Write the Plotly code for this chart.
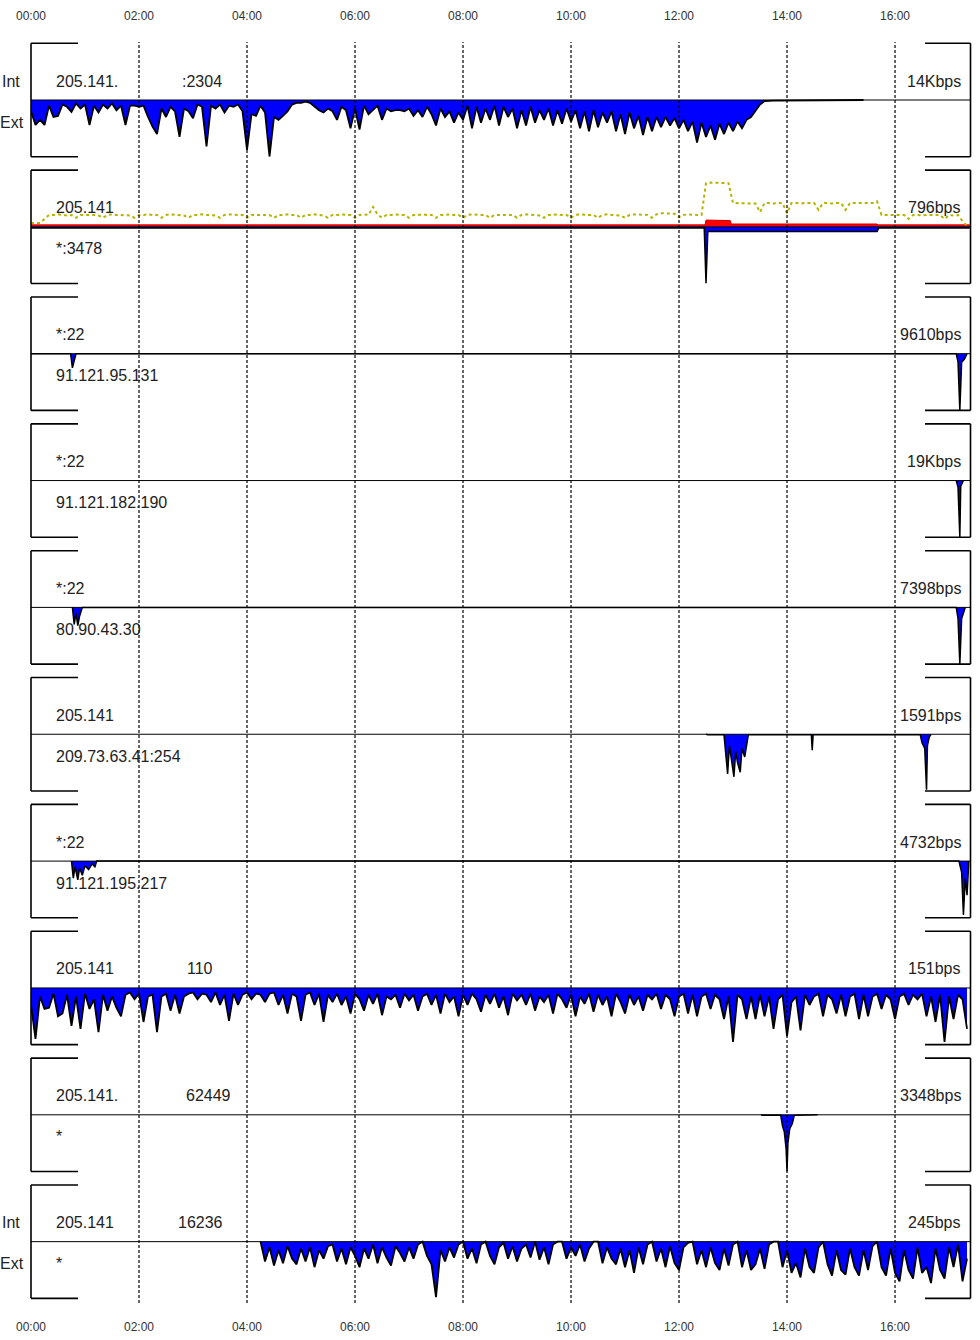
import plotly.graph_objects as go

# ---------------- data ----------------
tick_minutes = [0, 120, 240, 360, 480, 600, 720, 840, 960]
tick_labels = ["00:00", "02:00", "04:00", "06:00", "08:00", "10:00", "12:00", "14:00", "16:00"]
x_end = 1043.3  # minutes after 00:00 at the right edge

scale_bps = [14000, 796, 9610, 19000, 7398, 1591, 4732, 151, 3348, 245]
scale_labels = ["14Kbps", "796bps", "9610bps", "19Kbps", "7398bps",
                "1591bps", "4732bps", "151bps", "3348bps", "245bps"]
int_host = ["205.141.", "205.141", "*:22", "*:22", "*:22", "205.141", "*:22", "205.141", "205.141.", "205.141"]
int_port = [":2304", "", "", "", "", "", "", "110", "62449", "16236"]
ext_host = ["", "*:3478", "91.121.95.131", "91.121.182.190", "80.90.43.30",
            "209.73.63.41:254", "91.121.195.217", "", "*", "*"]

# values are percent of each panel's scale; dense series sampled every 5 minutes
step_min = 5

p1_start = 0
p1_ext = [20, 44, 35, 44, 10, 30, 28, 8, 12, 21,
          6, 15, 8, 44, 10, 22, 8, 15, 6, 18,
          10, 44, 10, 10, 12, 10, 30, 47, 60, 15,
          30, 12, 20, 65, 15, 20, 32, 8, 12, 82,
          10, 15, 8, 22, 10, 12, 8, 20, 88, 25,
          28, 10, 22, 100, 30, 35, 28, 20, 8, 5,
          5, 3, 5, 12, 18, 22, 15, 20, 35, 12,
          18, 50, 15, 52, 10, 25, 18, 10, 35, 15,
          20, 18, 18, 20, 15, 28, 18, 30, 12, 25,
          45, 15, 30, 20, 40, 22, 35, 10, 50, 12,
          40, 15, 35, 10, 45, 12, 30, 15, 50, 18,
          45, 12, 40, 18, 35, 15, 45, 18, 42, 15,
          38, 18, 50, 20, 55, 18, 48, 22, 40, 20,
          55, 25, 60, 22, 50, 28, 62, 30, 55, 30,
          48, 30, 45, 32, 50, 35, 55, 38, 75, 40,
          65, 45, 70, 42, 60, 40, 55, 38, 50, 35,
          30, 20, 8, 2, 1, 1, 1, 1, 1, 1,
          1, 1, 1, 1, 1, 1, 1, 1, 1, 1,
          1, 1, 1, 1, 1, 0]

p2_flow_start = 0
p2_flow = [7, 7, 7, 14, 21, 21, 22, 21, 20, 21,
           16, 21, 21, 22, 21, 20, 16, 21, 22, 21,
           21, 21, 20, 16, 21, 21, 22, 21, 21, 16,
           21, 22, 21, 21, 20, 16, 21, 21, 22, 21,
           21, 20, 16, 21, 22, 21, 21, 21, 16, 21,
           21, 22, 21, 21, 16, 21, 21, 22, 21, 21,
           16, 21, 21, 22, 21, 20, 16, 21, 21, 22,
           21, 21, 16, 21, 22, 21, 35, 22, 16, 21,
           21, 22, 21, 21, 16, 21, 21, 22, 21, 21,
           16, 21, 21, 22, 21, 21, 16, 21, 22, 21,
           21, 21, 16, 21, 21, 22, 21, 21, 16, 21,
           22, 21, 21, 20, 16, 21, 21, 22, 21, 21,
           16, 21, 22, 21, 21, 21, 16, 21, 22, 21,
           21, 20, 16, 21, 22, 22, 21, 21, 16, 22,
           24, 24, 24, 23, 17, 21, 22, 21, 21, 21,
           77, 78, 78, 77, 77, 77, 42, 42, 41, 42,
           42, 41, 26, 42, 42, 41, 42, 42, 24, 42,
           42, 41, 42, 42, 42, 30, 42, 42, 41, 42,
           42, 30, 42, 42, 42, 41, 42, 42, 45, 21,
           21, 21, 20, 21, 21, 14, 21, 21, 20, 21,
           21, 20, 21, 14, 21, 20, 21, 10, 2]
p2_int_t = [0, 749, 750, 777, 778, 940, 941, 1043]
p2_int = [3.5, 3.5, 12, 11, 5, 5, 3.5, 3.5]
p2_ext_t = [0, 748, 750, 752, 940, 942, 1043]
p2_ext = [2, 2, 100, 8, 8, 2, 2]

p3_ext_t = [0, 44, 46, 48, 50, 1028, 1030, 1032, 1034, 1037, 1040]
p3_ext = [0, 0, 25, 10, 0, 0, 15, 100, 15, 10, 0]

p4_ext_t = [1028, 1030, 1032, 1033, 1036]
p4_ext = [0, 12, 100, 10, 0]

p5_ext_t = [46, 48, 50, 52, 54, 57, 1028, 1030, 1032, 1034, 1038]
p5_ext = [0, 30, 10, 32, 15, 0, 0, 20, 100, 20, 0]

p6_ext_t = [750, 752, 770, 772, 774, 776, 778, 781, 783, 785, 788, 790, 793, 795, 797,
            867, 868, 869, 873, 874, 938, 940, 988, 990, 993, 995, 996, 998, 1000]
p6_ext = [0, 1, 1, 40, 70, 20, 45, 75, 30, 50, 67, 25, 40, 20, 1,
          1, 28, 1, 1, 0, 0, 1, 1, 15, 25, 98, 20, 5, 0]

p7_ext_t = [45, 47, 49, 52, 54, 57, 60, 64, 68, 71, 73, 1031, 1034, 1036, 1038, 1040, 1042]
p7_ext = [0, 30, 10, 33, 12, 25, 8, 15, 5, 10, 0, 0, 20, 95, 30, 60, 0]

p8_start = 0
p8_ext = [30, 90, 15, 37, 35, 10, 50, 45, 12, 67,
          15, 72, 10, 37, 20, 78, 12, 40, 15, 35,
          50, 12, 8, 20, 10, 60, 15, 12, 78, 15,
          10, 40, 12, 45, 15, 10, 8, 20, 10, 12,
          25, 8, 30, 12, 58, 10, 30, 12, 8, 20,
          10, 12, 25, 10, 8, 30, 12, 45, 10, 15,
          58, 12, 8, 30, 10, 60, 12, 25, 10, 30,
          15, 45, 10, 20, 40, 12, 28, 10, 48, 15,
          20, 12, 35, 10, 22, 12, 40, 15, 10, 30,
          12, 45, 10, 25, 15, 50, 12, 30, 10, 20,
          42, 12, 28, 10, 35, 15, 48, 10, 22, 12,
          30, 10, 40, 15, 25, 12, 45, 10, 20, 35,
          12, 50, 15, 28, 10, 42, 12, 30, 15, 50,
          10, 25, 45, 12, 30, 15, 40, 12, 20, 10,
          37, 12, 20, 50, 15, 10, 45, 12, 50, 15,
          10, 37, 12, 20, 55, 15, 95, 12, 20, 55,
          15, 55, 12, 50, 15, 72, 20, 12, 85, 25,
          15, 75, 12, 30, 15, 10, 50, 12, 20, 45,
          12, 50, 15, 10, 55, 12, 50, 15, 10, 37,
          12, 20, 55, 15, 10, 30, 12, 20, 10, 50,
          15, 60, 12, 95, 15, 55, 12, 20, 72]

p9_ext_t = [811, 813, 833, 835, 837, 839, 840, 841, 843, 846, 848, 873, 874]
p9_ext = [0, 1, 1, 20, 30, 60, 100, 50, 25, 15, 1, 1, 0]

p10_start = 255
p10_ext = [0, 35, 10, 42, 15, 38, 8, 30, 40, 12,
           35, 10, 45, 15, 30, 8, 5, 35, 12, 40,
           10, 25, 45, 12, 30, 5, 38, 10, 28, 42,
           8, 20, 35, 10, 30, 5, 0, 25, 40, 98,
           15, 35, 10, 28, 5, 0, 30, 12, 38, 5,
           0, 25, 40, 10, 2, 30, 8, 35, 12, 5,
           28, 0, 32, 10, 40, 5, 0, 0, 30, 10,
           25, 5, 35, 12, 0, 0, 38, 10, 30, 40,
           12, 45, 15, 55, 10, 40, 5, 0, 35, 12,
           45, 8, 38, 50, 10, 2, 0, 40, 15, 45,
           10, 38, 50, 12, 42, 5, 0, 45, 15, 50,
           40, 12, 48, 5, 0, 0, 45, 15, 55, 38,
           63, 12, 45, 55, 10, 0, 40, 60, 15, 50,
           58, 12, 45, 60, 15, 50, 8, 0, 45, 60,
           12, 55, 70, 15, 50, 65, 10, 55, 45, 73,
           12, 50, 65, 10, 45, 5, 70, 30]

# ---------------- layout geometry ----------------
W, H = 980, 1340
ML, MR, MT, MB = 31, 10, 22, 22
PW = W - ML - MR
PH = H - MT - MB


def px(x):
    return (x - ML) / PW


def py(y):
    return (H - MB - y) / PH


panel_top0, panel_step, panel_h = 43.3, 126.85, 113.4


def dense_t(start, vals):
    return [start + step_min * i for i in range(len(vals))]


ext_series = [
    (dense_t(p1_start, p1_ext), p1_ext, True),
    (p2_ext_t, p2_ext, False),
    (p3_ext_t, p3_ext, False),
    (p4_ext_t, p4_ext, False),
    (p5_ext_t, p5_ext, False),
    (p6_ext_t, p6_ext, False),
    (p7_ext_t, p7_ext, False),
    (dense_t(p8_start, p8_ext), p8_ext, True),
    (p9_ext_t, p9_ext, False),
    (dense_t(p10_start, p10_ext), p10_ext, True),
]

FONT = "Liberation Sans, Arial, sans-serif"
fig = go.Figure()
shapes = []
annotations = []
layout_axes = {}

for k in range(10):
    yname = "y" if k == 0 else f"y{k+1}"
    ykey = "yaxis" if k == 0 else f"yaxis{k+1}"
    top = panel_top0 + panel_step * k
    bot = top + panel_h
    zero = top + panel_h / 2
    sc = scale_bps[k]
    layout_axes[ykey] = dict(domain=[py(bot), py(top)], range=[-sc, sc], visible=False,
                             fixedrange=True, anchor="x", automargin=False)

    if k == 1:
        fig.add_trace(go.Scatter(x=p2_int_t, y=[v / 100 * sc for v in p2_int], mode="lines",
                                 fill="tozeroy", fillcolor="#ff0000",
                                 line=dict(color="#cc0000", width=1),
                                 xaxis="x", yaxis=yname, hoverinfo="skip", showlegend=False))
    tx, vals, dense = ext_series[k]
    fig.add_trace(go.Scatter(x=tx, y=[-v / 100 * sc for v in vals], mode="lines",
                             fill="tozeroy", fillcolor="#0000ff",
                             line=dict(color="#000000", width=1.8 if dense else 1.5),
                             xaxis="x", yaxis=yname, hoverinfo="skip", showlegend=False))
    if k == 1:
        fig.add_trace(go.Scatter(x=dense_t(p2_flow_start, p2_flow),
                                 y=[v / 100 * sc for v in p2_flow], mode="lines",
                                 line=dict(color="#b4b400", width=2, dash="dot"),
                                 xaxis="x", yaxis=yname, hoverinfo="skip", showlegend=False))

    # zero line
    shapes.append(dict(type="line", xref="paper", yref="paper", x0=0, x1=1,
                       y0=py(zero), y1=py(zero), line=dict(color="black", width=1)))
    # left and right brackets
    for (x0, y0, x1, y1) in [(31, top, 31, bot), (31, top, 78, top), (31, bot, 78, bot),
                             (970.5, top, 970.5, bot), (925, top, 970.5, top), (925, bot, 970.5, bot)]:
        shapes.append(dict(type="line", xref="paper", yref="paper",
                           x0=px(x0), x1=px(x1), y0=py(y0), y1=py(y1),
                           line=dict(color="black", width=1.6)))

    lab_font = dict(family=FONT, size=16, color="#222222")
    annotations.append(dict(text=int_host[k], x=px(54), y=py(zero - 19), xref="paper", yref="paper",
                            xanchor="left", yanchor="middle", showarrow=False, font=lab_font))
    if int_port[k]:
        port_x = {0: 180, 7: 185, 8: 184, 9: 176}[k]
        annotations.append(dict(text=int_port[k], x=px(port_x), y=py(zero - 19), xref="paper", yref="paper",
                                xanchor="left", yanchor="middle", showarrow=False, font=lab_font))
    if ext_host[k]:
        annotations.append(dict(text=ext_host[k], x=px(54), y=py(zero + 22), xref="paper", yref="paper",
                                xanchor="left", yanchor="middle", showarrow=False, font=lab_font))
    annotations.append(dict(text=scale_labels[k], x=px(963), y=py(zero - 19), xref="paper", yref="paper",
                            xanchor="right", yanchor="middle", showarrow=False, font=lab_font))
    if k in (0, 9):
        annotations.append(dict(text="Int", x=px(22), y=py(zero - 19), xref="paper", yref="paper",
                                xanchor="right", yanchor="middle", showarrow=False, font=lab_font))
        annotations.append(dict(text="Ext", x=px(26), y=py(zero + 22), xref="paper", yref="paper",
                                xanchor="right", yanchor="middle", showarrow=False, font=lab_font))

# dotted time gridlines
for m in tick_minutes[1:]:
    shapes.append(dict(type="line", xref="x", yref="paper", x0=m, x1=m,
                       y0=py(1303), y1=py(42),
                       line=dict(color="black", width=1.2, dash="3px,2px")))

# dummy trace so the top time axis is drawn
fig.add_trace(go.Scatter(x=[0], y=[None], xaxis="x2", yaxis="y", mode="lines",
                         hoverinfo="skip", showlegend=False))

tick_font = dict(family=FONT, size=12, color="#333333")
fig.update_layout(
    width=W, height=H,
    margin=dict(l=ML, r=MR, t=MT, b=MB, autoexpand=False),
    paper_bgcolor="white", plot_bgcolor="white",
    showlegend=False,
    xaxis=dict(range=[0, x_end], tickvals=tick_minutes, ticktext=tick_labels,
               anchor="free", position=0, side="bottom", showgrid=False, zeroline=False,
               showline=False, ticks="", tickfont=tick_font, fixedrange=True, automargin=False),
    xaxis2=dict(range=[0, x_end], tickvals=tick_minutes, ticktext=tick_labels,
                anchor="free", position=1, side="top", overlaying="x", matches="x",
                showgrid=False, zeroline=False, showline=False, ticks="",
                tickfont=tick_font, fixedrange=True, automargin=False),
    shapes=shapes,
    annotations=annotations,
    **layout_axes,
)

fig.write_html("out.html")
